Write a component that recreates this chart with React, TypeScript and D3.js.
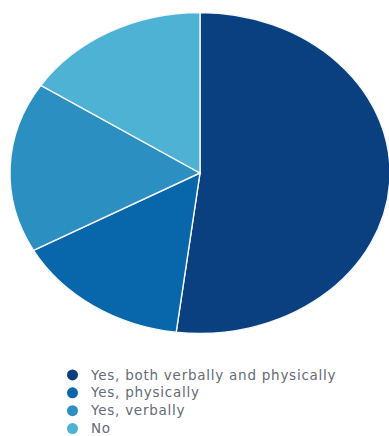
import React from "react";
import * as d3 from "d3";

const categories = [
  "Yes, both verbally and physically",
  "Yes, physically",
  "Yes, verbally",
  "No",
];
const values = [52, 15, 17.2, 15.8];
const colors = ["#0b4080", "#0866aa", "#2c8fc1", "#4db2d3"];

export default function App() {
  const W = 389;
  const H = 436;
  const cx = 200;
  const cy = 173;
  const rx = 190;
  const ry = 160.5;
  const R = 100;

  const pie = d3.pie<number>().sort(null).value((d) => d);
  const arcs = pie(values);
  const arc = d3.arc<d3.PieArcDatum<number>>().innerRadius(0).outerRadius(R);

  const legendY = d3.scaleBand<number>().domain(d3.range(categories.length)).range([366, 437.5]);

  return (
    <svg
      width={W}
      height={H}
      style={{ position: "absolute", left: 0, top: 0 }}
      xmlns="http://www.w3.org/2000/svg"
    >
      <g transform={`translate(${cx},${cy}) scale(${rx / R},${ry / R})`}>
        {arcs.map((a, i) => (
          <path
            key={i}
            d={arc(a) || ""}
            fill={colors[i]}
            stroke="#f4f8fb"
            strokeWidth={1.4}
            vectorEffect="non-scaling-stroke"
          />
        ))}
      </g>
      {categories.map((c, i) => {
        const y = (legendY(i) as number) + legendY.bandwidth() / 2;
        return (
          <g key={c}>
            <circle cx={72.5} cy={y} r={5.5} fill={colors[i]} />
            <text
              x={91}
              y={y}
              dy="0.34em"
              fontFamily="'DejaVu Sans', sans-serif"
              fontSize={13.5}
              letterSpacing={0.75}
              fill="#646b75"
            >
              {c}
            </text>
          </g>
        );
      })}
    </svg>
  );
}
